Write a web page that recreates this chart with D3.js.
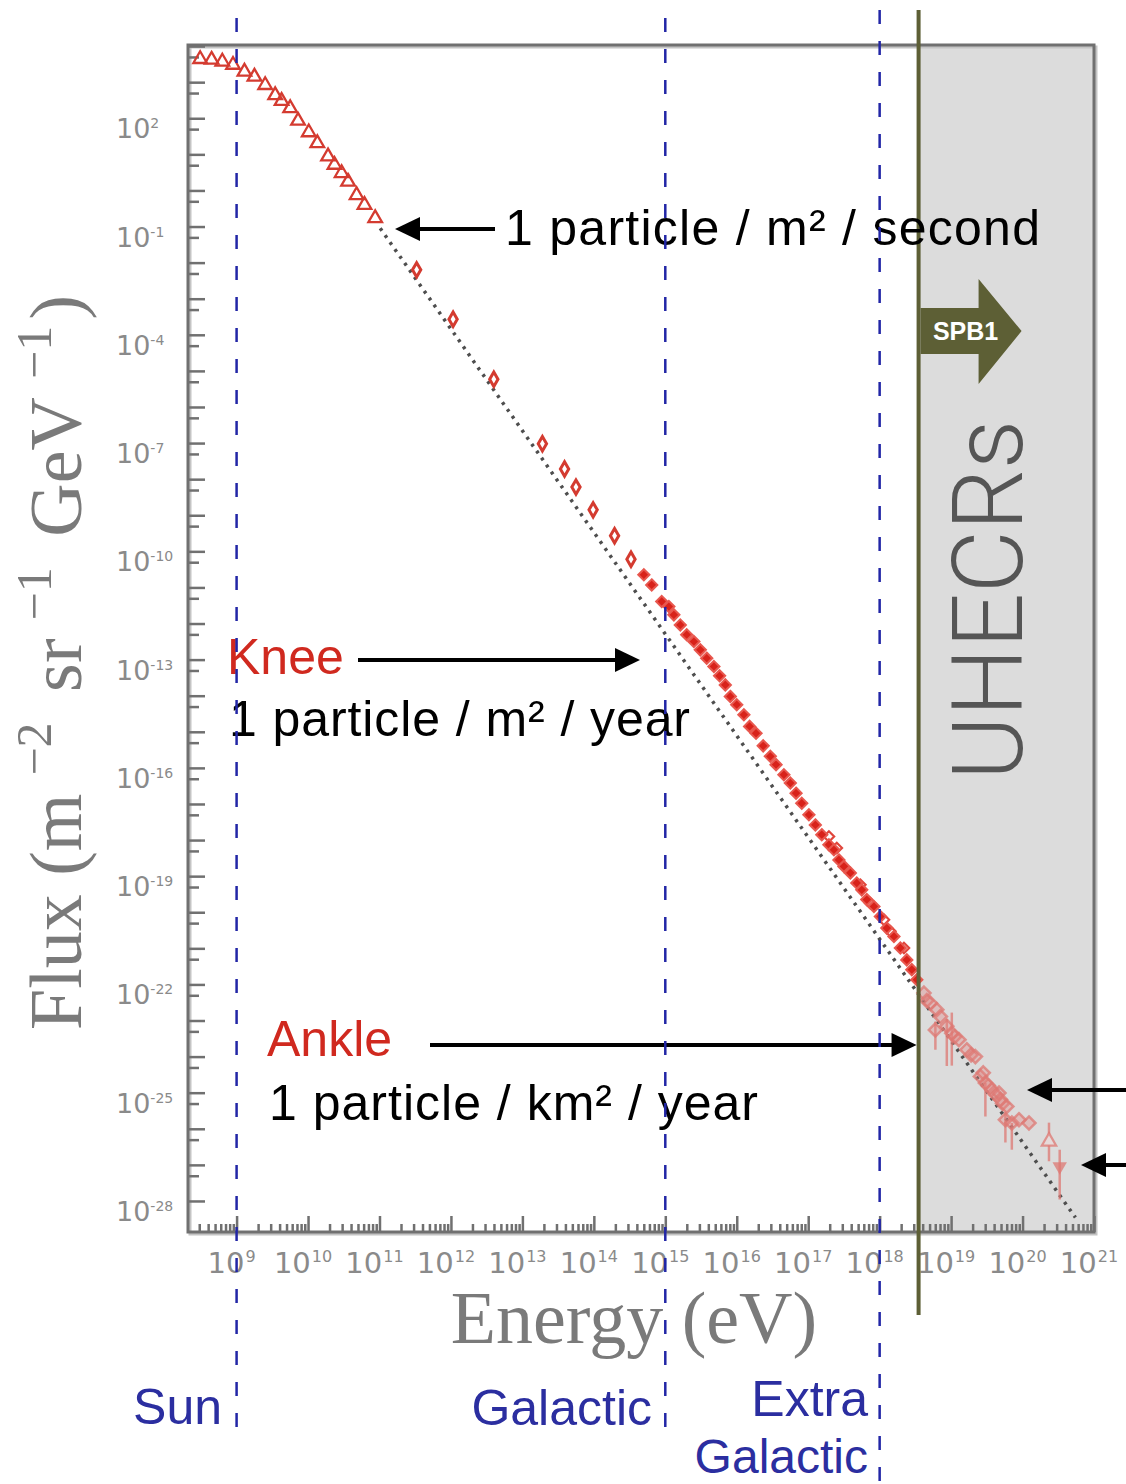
<!DOCTYPE html>
<html>
<head>
<meta charset="utf-8">
<script src="https://cdn.jsdelivr.net/npm/d3@7"></script>
<style>
  body { margin: 0; background: #fff; }
  svg { display: block; }
</style>
</head>
<body>
<div id="chart"></div>
<script>
// all values are log10: energy in eV, flux in m^-2 sr^-1 GeV^-1
const lowLogE = [8.49, 8.65, 8.80, 8.95, 9.11, 9.25, 9.40, 9.54, 9.63, 9.75, 9.86, 10.01, 10.13, 10.28, 10.37, 10.47, 10.56, 10.68, 10.79, 10.94];
const lowLogF = [3.64, 3.62, 3.57, 3.48, 3.29, 3.15, 2.92, 2.64, 2.48, 2.28, 1.93, 1.61, 1.31, 0.94, 0.71, 0.48, 0.24, -0.13, -0.40, -0.77];

const midLogE = [11.52, 12.03, 12.60, 13.28, 13.59, 13.75, 13.99, 14.29, 14.52];
const midLogF = [-2.20, -3.57, -5.23, -7.02, -7.72, -8.22, -8.85, -9.57, -10.22];

const kneeLogE = [14.70, 14.81, 14.95, 15.05, 15.12, 15.21, 15.30, 15.40, 15.49, 15.58, 15.68, 15.76, 15.84, 15.91, 16.00, 16.10, 16.18, 16.27, 16.37, 16.47, 16.55, 16.66, 16.75, 16.83, 16.91, 17.01, 17.10, 17.19, 17.29, 17.36, 17.43, 17.50, 17.59, 17.68, 17.75, 17.82, 17.92, 18.01, 18.10, 18.20, 18.29, 18.38, 18.45, 18.52];
const kneeLogF = [-10.65, -10.93, -11.39, -11.53, -11.76, -12.04, -12.31, -12.50, -12.73, -12.96, -13.19, -13.45, -13.70, -14.02, -14.25, -14.53, -14.85, -15.04, -15.39, -15.68, -15.91, -16.19, -16.42, -16.70, -16.98, -17.30, -17.58, -17.85, -18.13, -18.27, -18.55, -18.73, -18.91, -19.19, -19.38, -19.65, -19.84, -20.12, -20.44, -20.67, -20.99, -21.32, -21.59, -21.87];

// open markers from other experiments scattered around the knee series
const otherLogE = [17.29, 17.40, 17.73, 17.87, 18.06, 18.15, 18.34];
const otherLogF = [-17.90, -18.22, -19.24, -19.75, -20.21, -20.53, -20.99];

// ultra high energy points: [logE, logF, error down, error up] (decades)
const uhecrPoints = [
  [18.62, -22.24, 0, 0], [18.66, -22.45, 0, 0], [18.71, -22.52, 0, 0],
  [18.78, -23.26, 0.55, 0.23], [18.80, -22.70, 0, 0], [18.85, -22.89, 0, 0],
  [18.94, -23.16, 1.10, 0.20], [19.01, -23.35, 0.90, 0.57], [19.05, -23.45, 0, 0],
  [19.11, -23.53, 0, 0], [19.22, -23.81, 0, 0], [19.28, -23.95, 0, 0],
  [19.34, -24.00, 0, 0], [19.41, -24.55, 0, 0], [19.45, -24.45, 0, 0],
  [19.48, -24.73, 0.93, 0], [19.52, -24.80, 0, 0], [19.57, -24.92, 0, 0],
  [19.62, -25.05, 0, 0], [19.67, -25.01, 0, 0], [19.69, -25.19, 0, 0],
  [19.72, -25.30, 0, 0], [19.76, -25.75, 0.63, 0.20], [19.78, -25.38, 0, 0],
  [19.85, -25.84, 0.74, 0], [19.95, -25.75, 0, 0], [20.09, -25.84, 0, 0]
];
const highestUp = [20.37, -26.35, 0.55, 0.52];
const highestDown = [20.52, -27.04, 0.92, 0.46];

// dotted power law guide
const fitLogE = [11.01, 20.74];
const fitLogF = [-1.05, -28.46];

const yLabelExps = [2, -1, -4, -7, -10, -13, -16, -19, -22, -25, -28];
const xLabelExps = [9, 10, 11, 12, 13, 14, 15, 16, 17, 18, 19, 20, 21];
const regionLogE = [9, 15, 18];
const ankleLogE = 18.545;

const width = 1126;
const height = 1484;
const plot = { left: 188, right: 1094, top: 45, bottom: 1232 };

const frameGray = "#707070";
const labelGray = "#8a8a8a";
const titleGray = "#7a7a7a";
const red = "#d0291f";
const blue = "#2226a6";
const olive = "#5d5f35";
const sans = "'Helvetica Neue', 'Liberation Sans', Arial, sans-serif";
const tickFont = "'DejaVu Sans', Verdana, sans-serif";

const svg = d3.select("#chart")
  .append("svg")
  .attr("width", width)
  .attr("height", height);

const x = d3.scaleLog()
  .domain([Math.pow(10, 8.32), 1e21])
  .range([plot.left, plot.right]);

const y = d3.scaleLog()
  .domain([Math.pow(10, -28.86), Math.pow(10, 4.03)])
  .range([plot.bottom, plot.top]);

const px = v => x(Math.pow(10, v));
const py = v => y(Math.pow(10, v));

// shaded UHECR region
svg.append("rect")
  .attr("x", px(ankleLogE))
  .attr("y", plot.top)
  .attr("width", plot.right - px(ankleLogE))
  .attr("height", plot.bottom - plot.top)
  .attr("fill", "#dcdcdc");

// frame, with a soft shadow
svg.append("rect")
  .attr("x", plot.left + 2)
  .attr("y", plot.top + 2)
  .attr("width", plot.right - plot.left)
  .attr("height", plot.bottom - plot.top)
  .attr("fill", "none")
  .attr("stroke", "#c4c4c4")
  .attr("stroke-width", 3);

svg.append("rect")
  .attr("x", plot.left)
  .attr("y", plot.top)
  .attr("width", plot.right - plot.left)
  .attr("height", plot.bottom - plot.top)
  .attr("fill", "none")
  .attr("stroke", frameGray)
  .attr("stroke-width", 3);

// y axis ticks: every decade, plus a short one at 5 x 10^(k-1)
const yMajor = d3.range(-28, 5).map(k => Math.pow(10, k));
const yMinor = d3.range(-28, 4).map(k => 5 * Math.pow(10, k));

function styleAxis(g) {
  g.select(".domain").remove();
  g.selectAll(".tick line").attr("stroke", frameGray).attr("stroke-width", 2.5);
}

svg.append("g")
  .attr("transform", `translate(${plot.left},0)`)
  .call(d3.axisRight(y).tickValues(yMajor).tickSize(17).tickFormat(""))
  .call(styleAxis);

svg.append("g")
  .attr("transform", `translate(${plot.left},0)`)
  .call(d3.axisRight(y).tickValues(yMinor).tickSize(11).tickFormat(""))
  .call(styleAxis);

// x axis ticks: decades and 2..9 minors
const xMajor = d3.range(9, 22).map(k => Math.pow(10, k));
const xMinor = [];
d3.range(8, 21).forEach(k => {
  d3.range(2, 10).forEach(m => {
    const v = m * Math.pow(10, k);
    if (v > x.domain()[0] && v < x.domain()[1]) xMinor.push(v);
  });
});

svg.append("g")
  .attr("transform", `translate(0,${plot.bottom})`)
  .call(d3.axisTop(x).tickValues(xMajor).tickSize(16).tickFormat(""))
  .call(styleAxis);

svg.append("g")
  .attr("transform", `translate(0,${plot.bottom})`)
  .call(d3.axisTop(x).tickValues(xMinor).tickSize(8).tickFormat(""))
  .call(styleAxis);

// tick labels
const yLabels = svg.append("g")
  .attr("font-family", tickFont)
  .attr("fill", labelGray)
  .selectAll("text")
  .data(yLabelExps)
  .enter().append("text")
  .attr("x", 116)
  .attr("y", d => py(d) + 20)
  .attr("font-size", 27);
yLabels.append("tspan").text("10");
yLabels.append("tspan")
  .attr("font-size", 14)
  .attr("dy", -10)
  .text(d => d < 0 ? "-" + (-d) : d);

const xLabels = svg.append("g")
  .attr("font-family", tickFont)
  .attr("fill", labelGray)
  .selectAll("text")
  .data(xLabelExps)
  .enter().append("text")
  .attr("x", d => px(d) - 5)
  .attr("y", 1273)
  .attr("text-anchor", "middle")
  .attr("font-size", 29);
xLabels.append("tspan").text("10");
xLabels.append("tspan")
  .attr("font-size", 16)
  .attr("dy", -11)
  .attr("dx", 1)
  .text(d => d);

// axis titles
svg.append("text")
  .attr("x", 634)
  .attr("y", 1343)
  .attr("text-anchor", "middle")
  .attr("font-family", "'Liberation Serif', 'Times New Roman', serif")
  .attr("font-size", 74)
  .attr("fill", titleGray)
  .text("Energy (eV)");

const yTitle = svg.append("text")
  .attr("transform", "translate(81,1030) rotate(-90)")
  .attr("font-family", "'Liberation Serif', 'Times New Roman', serif")
  .attr("font-size", 74)
  .attr("fill", titleGray);
yTitle.append("tspan").text("Flux (m");
yTitle.append("tspan").attr("font-size", 50).attr("dx", 18).attr("dy", -30).text("\u22122");
yTitle.append("tspan").attr("dx", 12).attr("dy", 30).text(" sr");
yTitle.append("tspan").attr("font-size", 50).attr("dx", 18).attr("dy", -30).text("\u22121");
yTitle.append("tspan").attr("dx", 12).attr("dy", 30).text(" GeV");
yTitle.append("tspan").attr("font-size", 50).attr("dx", 18).attr("dy", -30).text("\u22121");
yTitle.append("tspan").attr("dx", 6).attr("dy", 30).text(")");

// UHECRs label
svg.append("text")
  .attr("transform", `translate(1022,600) rotate(-90)`)
  .attr("text-anchor", "middle")
  .attr("font-family", "Roboto, 'Liberation Sans', sans-serif")
  .attr("font-weight", 300)
  .attr("font-size", 98)
  .attr("textLength", 360)
  .attr("lengthAdjust", "spacingAndGlyphs")
  .attr("fill", "#555")
  .text("UHECRs");

// dotted power law guide
svg.append("path")
  .datum(d3.zip(fitLogE, fitLogF))
  .attr("d", d3.line().x(d => px(d[0])).y(d => py(d[1])))
  .attr("fill", "none")
  .attr("stroke", "#4e4e4e")
  .attr("stroke-width", 3.5)
  .attr("stroke-dasharray", "3 5.5");

// low energy triangles
svg.append("g")
  .selectAll("path")
  .data(d3.zip(lowLogE, lowLogF))
  .enter().append("path")
  .attr("transform", d => `translate(${px(d[0])},${py(d[1])})`)
  .attr("d", d3.symbol().type(d3.symbolTriangle).size(80))
  .attr("fill", "none")
  .attr("stroke", "#d43b30")
  .attr("stroke-width", 2.3);

// mid energy open diamonds
svg.append("g")
  .selectAll("path")
  .data(d3.zip(midLogE, midLogF))
  .enter().append("path")
  .attr("transform", d => `translate(${px(d[0])},${py(d[1])})`)
  .attr("d", d3.symbol().type(d3.symbolDiamond).size(60))
  .attr("fill", "none")
  .attr("stroke", "#d43b30")
  .attr("stroke-width", 3);

// open markers around knee
svg.append("g")
  .selectAll("path")
  .data(d3.zip(otherLogE, otherLogF))
  .enter().append("path")
  .attr("transform", d => `translate(${px(d[0])},${py(d[1])})`)
  .attr("d", d3.symbol().type(d3.symbolDiamond2).size(70))
  .attr("fill", "none")
  .attr("stroke", "#e0463c")
  .attr("stroke-width", 2.2);

// knee filled markers
svg.append("g")
  .selectAll("path")
  .data(d3.zip(kneeLogE, kneeLogF))
  .enter().append("path")
  .attr("transform", d => `translate(${px(d[0])},${py(d[1])})`)
  .attr("d", d3.symbol().type(d3.symbolDiamond2).size(80))
  .attr("fill", "#d8221a")
  .attr("stroke", "#e8574e")
  .attr("stroke-width", 2);

// UHECR points with error bars
const pink = "rgba(222, 120, 115, 0.75)";
const uhecr = svg.append("g");
uhecr.selectAll("line")
  .data(uhecrPoints.concat([highestUp, highestDown]).filter(d => d[2] > 0 || d[3] > 0))
  .enter().append("line")
  .attr("x1", d => px(d[0]))
  .attr("x2", d => px(d[0]))
  .attr("y1", d => py(d[1] - d[2]))
  .attr("y2", d => py(d[1] + d[3]))
  .attr("stroke", pink)
  .attr("stroke-width", 2.5);

uhecr.selectAll("path.pt")
  .data(uhecrPoints)
  .enter().append("path")
  .attr("class", "pt")
  .attr("transform", d => `translate(${px(d[0])},${py(d[1])})`)
  .attr("d", d3.symbol().type(d3.symbolDiamond2).size(110))
  .attr("fill", "rgba(226, 130, 125, 0.35)")
  .attr("stroke", pink)
  .attr("stroke-width", 2.5);

uhecr.append("path")
  .attr("transform", `translate(${px(highestUp[0])},${py(highestUp[1])})`)
  .attr("d", d3.symbol().type(d3.symbolTriangle).size(90))
  .attr("fill", "#e6dada")
  .attr("stroke", pink)
  .attr("stroke-width", 2.2);

uhecr.append("path")
  .attr("transform", `translate(${px(highestDown[0])},${py(highestDown[1])}) rotate(180)`)
  .attr("d", d3.symbol().type(d3.symbolTriangle).size(90))
  .attr("fill", pink);

// olive ankle line and SPB1 arrow
const ax = px(ankleLogE);
svg.append("line")
  .attr("x1", ax).attr("x2", ax)
  .attr("y1", 10).attr("y2", 1315)
  .attr("stroke", olive)
  .attr("stroke-width", 4);

svg.append("path")
  .attr("d", `M${ax + 2},308 H${ax + 60} V279 L${ax + 103},331 L${ax + 60},384 V354 H${ax + 2} Z`)
  .attr("fill", olive);

svg.append("text")
  .attr("x", ax + 47)
  .attr("y", 340)
  .attr("text-anchor", "middle")
  .attr("font-family", "'Liberation Sans', Arial, sans-serif")
  .attr("font-weight", "bold")
  .attr("font-size", 25)
  .attr("fill", "#fff")
  .text("SPB1");

// annotation arrows
function drawArrow(x1, y1, x2, tipLen = 25, half = 12) {
  const dir = x2 > x1 ? 1 : -1;
  svg.append("line")
    .attr("x1", x1).attr("y1", y1)
    .attr("x2", x2 - dir * tipLen + dir * 2).attr("y2", y1)
    .attr("stroke", "#000")
    .attr("stroke-width", 4);
  svg.append("path")
    .attr("d", `M${x2},${y1} L${x2 - dir * tipLen},${y1 - half} L${x2 - dir * tipLen},${y1 + half} Z`)
    .attr("fill", "#000");
}

drawArrow(495, 229, 395);
drawArrow(358, 660, 640);
drawArrow(430, 1045, ax - 2);
drawArrow(1126, 1090, 1027);
drawArrow(1126, 1165, 1081);

const notes = [
  { text: "1 particle / m\u00b2 / second", x: 505, y: 245, color: "#000", len: 535 },
  { text: "Knee", x: 227, y: 674, color: red, len: 0 },
  { text: "1 particle / m\u00b2 / year", x: 229, y: 736, color: "#000", len: 461 },
  { text: "Ankle", x: 267, y: 1056, color: red, len: 0 },
  { text: "1 particle / km\u00b2 / year", x: 269, y: 1120, color: "#000", len: 489 }
];

svg.append("g")
  .selectAll("text")
  .data(notes)
  .enter().append("text")
  .attr("x", d => d.x)
  .attr("y", d => d.y)
  .attr("font-family", sans)
  .attr("font-size", 50)
  .attr("fill", d => d.color)
  .attr("textLength", d => d.len || null)
  .attr("lengthAdjust", "spacing")
  .text(d => d.text);

// dashed region boundaries
const lineBottoms = [1438, 1440, 1484];
const lineTops = [18, 18, 10];
svg.append("g")
  .selectAll("line")
  .data(regionLogE)
  .enter().append("line")
  .attr("x1", d => px(d))
  .attr("x2", d => px(d))
  .attr("y1", (d, i) => lineTops[i])
  .attr("y2", (d, i) => lineBottoms[i])
  .attr("stroke", blue)
  .attr("stroke-width", 2.5)
  .attr("stroke-dasharray", "14 17");

const regionNames = [
  { text: "Sun", x: 222, y: 1424, size: 50 },
  { text: "Galactic", x: 652, y: 1425, size: 50 },
  { text: "Extra", x: 868, y: 1416, size: 50 },
  { text: "Galactic", x: 868, y: 1473, size: 48 }
];

svg.append("g")
  .selectAll("text")
  .data(regionNames)
  .enter().append("text")
  .attr("x", d => d.x)
  .attr("y", d => d.y)
  .attr("text-anchor", "end")
  .attr("font-family", sans)
  .attr("font-size", d => d.size)
  .attr("fill", "#2b2ea0")
  .text(d => d.text);
</script>
</body>
</html>
